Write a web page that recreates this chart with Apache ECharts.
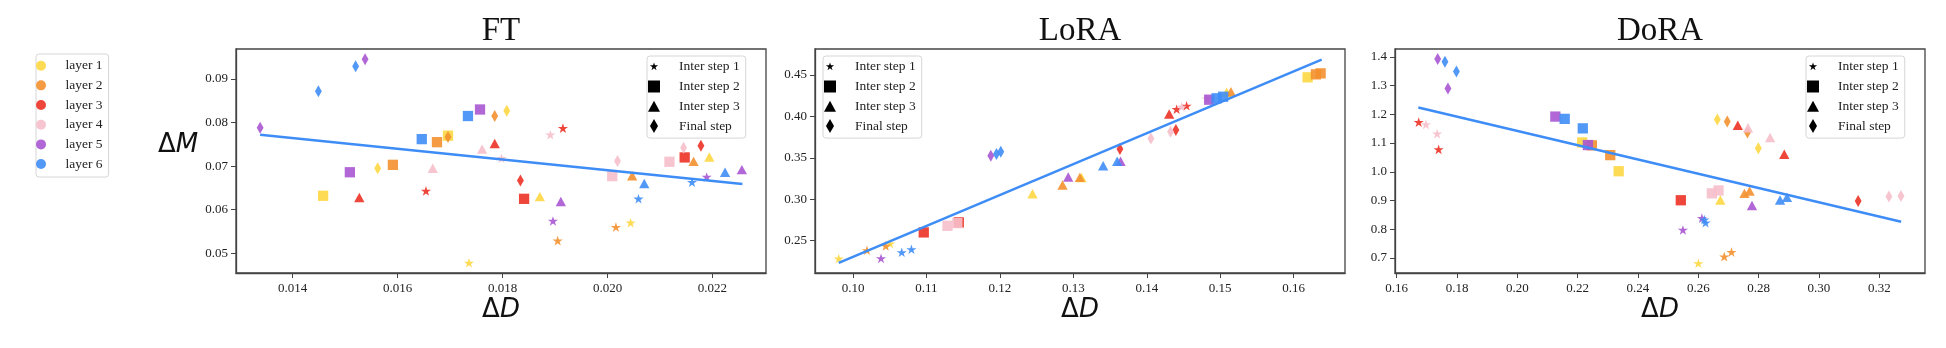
<!DOCTYPE html>
<html><head><meta charset="utf-8">
<script src="https://cdn.jsdelivr.net/npm/echarts@6/dist/echarts.min.js"></script>
<style>html,body{margin:0;padding:0;background:#fff}#c{width:1946px;height:348px}</style>
</head><body><div id="c"></div>
<script>
// ---------- data ----------
const layerNames = ['layer 1','layer 2','layer 3','layer 4','layer 5','layer 6'];
const stepNames = ['Inter step 1','Inter step 2','Inter step 3','Final step'];
const panelTitles = ['FT','LoRA','DoRA'];

// FT panel (layer 1-6, step 1-4)
const ftX = [0.01338,0.01449,0.01520,0.01538,0.01509,0.01458,0.01527,0.01562,0.01591,0.01646,0.01675,0.01696,0.01696,0.01667,0.01654,0.01734,0.01757,0.01785,0.01761,0.01785,0.01736,0.01808,0.01891,0.01915,0.01798,0.01834,0.01841,0.01871,0.01911,0.01896,0.01905,0.02019,0.02009,0.02047,0.02059,0.02016,0.02044,0.02070,0.02118,0.02147,0.02145,0.02178,0.02164,0.02194,0.02161,0.02189,0.02224,0.02256];
const ftY = [0.0788,0.0872,0.0929,0.0945,0.0686,0.0632,0.0628,0.0695,0.0703,0.0762,0.0755,0.0770,0.0767,0.0695,0.0642,0.0815,0.0830,0.0815,0.0739,0.0752,0.0477,0.0827,0.0771,0.0786,0.0717,0.0667,0.0625,0.0630,0.0619,0.0573,0.0528,0.0712,0.0677,0.0678,0.0624,0.0559,0.0569,0.0660,0.0710,0.0720,0.0742,0.0747,0.0711,0.0721,0.0662,0.0674,0.0686,0.0692];
const ftLayer = [5,6,6,5,5,1,3,1,2,6,2,1,2,4,3,6,5,2,4,3,1,1,4,3,4,3,3,1,5,5,2,4,4,2,6,2,1,6,4,3,4,3,2,1,6,5,6,5];
const ftStep  = [4,4,4,4,2,2,3,4,2,2,2,2,4,3,1,2,2,4,3,3,1,4,1,1,1,4,2,3,3,1,1,4,2,3,1,1,1,3,2,2,4,4,3,3,1,1,3,3];
const ftFitX = [0.01338, 0.02257];
const ftFitY = [0.0772, 0.06592];

// LoRA panel
const loraX = [0.09805,0.1019,0.10445,0.10504,0.10381,0.10663,0.10795,0.10963,0.11440,0.11286,0.11420,0.11876,0.11953,0.12012,0.12444,0.12853,0.12930,0.13110,0.13089,0.13406,0.13643,0.13597,0.13634,0.14056,0.14324,0.14396,0.14305,0.14406,0.14474,0.14542,0.14815,0.14850,0.14950,0.15040,0.15087,0.15146,0.16190,0.16303,0.16367];
const loraY = [0.2278,0.2378,0.2431,0.2459,0.2281,0.2354,0.2390,0.2600,0.2721,0.2680,0.2712,0.3525,0.3546,0.3574,0.3067,0.3172,0.3268,0.3262,0.3264,0.3405,0.3458,0.3458,0.3606,0.3735,0.3815,0.3836,0.4029,0.4081,0.4110,0.4122,0.4210,0.4202,0.4219,0.4238,0.4291,0.4298,0.4472,0.4508,0.4520];
const loraLayer = [1,2,2,1,5,6,6,3,3,4,4,5,6,6,1,2,5,1,2,6,5,6,3,4,4,3,3,3,4,3,4,5,6,6,1,2,1,2,2];
const loraStep  = [1,1,1,1,1,1,1,2,2,2,2,4,4,4,3,3,3,3,3,3,3,3,4,4,4,4,3,1,1,1,1,2,2,2,3,3,2,2,2];
const loraFitX = [0.09805, 0.16381];
const loraFitY = [0.2233, 0.4685];

// DoRA panel
const doraX = [0.1736,0.1760,0.1798,0.1770,0.1673,0.1697,0.1734,0.1739,0.2126,0.2157,0.2217,0.2215,0.2247,0.2234,0.2308,0.2336,0.2542,0.2645,0.2667,0.2673,0.2549,0.2612,0.2620,0.2624,0.2600,0.2686,0.2710,0.2663,0.2696,0.2731,0.2765,0.2763,0.2838,0.2799,0.2885,0.2753,0.2770,0.2778,0.2871,0.2894,0.3130,0.3232,0.3272];
const doraY = [1.392,1.383,1.349,1.290,1.171,1.163,1.131,1.076,1.192,1.184,1.151,1.102,1.092,1.093,1.058,1.002,0.901,0.925,0.935,0.902,0.796,0.837,0.832,0.821,0.680,0.703,0.719,1.182,1.175,1.162,1.153,1.137,1.119,1.082,1.061,0.925,0.933,0.883,0.902,0.911,0.898,0.914,0.916];
const doraLayer = [5,6,6,5,3,4,4,3,5,6,6,1,2,5,2,1,3,4,4,1,5,5,6,6,1,2,2,1,2,3,4,2,4,1,3,2,2,5,6,6,3,4,4];
const doraStep  = [4,4,4,4,1,1,1,1,2,2,2,2,2,2,2,2,2,2,2,3,1,1,1,1,1,1,1,4,4,3,3,4,3,4,3,3,3,3,3,3,4,4,4];
const doraFitX = [0.16717, 0.32726];
const doraFitY = [1.2237, 0.8265];

// tick labels
const ftXTicks = [0.014,0.016,0.018,0.020,0.022];
const ftYTicks = [0.05,0.06,0.07,0.08,0.09];
const loraXTicks = [0.10,0.11,0.12,0.13,0.14,0.15,0.16];
const loraYTicks = [0.25,0.30,0.35,0.40,0.45];
const doraXTicks = [0.16,0.18,0.20,0.22,0.24,0.26,0.28,0.30,0.32];
const doraYTicks = [0.7,0.8,0.9,1.0,1.1,1.2,1.3,1.4];

// ---------- styling ----------
const layerColors = ['#FDD743','#F3902F','#EC3226','#F6BFCB','#A957D1','#3E8DF6'];
const fitColor = '#3E8DF6';
const serif = 'Liberation Serif';
const panels = [
  {x:ftX,y:ftY,layer:ftLayer,step:ftStep,fx:ftFitX,fy:ftFitY,xt:ftXTicks,yt:ftYTicks,xd:3,yd:2,
   xmin:0.01292,xmax:0.02302,ymin:0.04548,ymax:0.09688,left:236,legLeft:647},
  {x:loraX,y:loraY,layer:loraLayer,step:loraStep,fx:loraFitX,fy:loraFitY,xt:loraXTicks,yt:loraYTicks,xd:2,yd:2,
   xmin:0.09482,xmax:0.16699,ymin:0.211,ymax:0.4814,left:815,legLeft:823},
  {x:doraX,y:doraY,layer:doraLayer,step:doraStep,fx:doraFitX,fy:doraFitY,xt:doraXTicks,yt:doraYTicks,xd:2,yd:1,
   xmin:0.15944,xmax:0.33516,ymin:0.648,ymax:1.427,left:1395,legLeft:1806}
];
const GT = 49, GW = 530, GH = 224;

function starPath(R) {
  const c = 7, r = R * 0.382;
  let d = 'M0 0M14 14';
  for (let k = 0; k < 10; k++) {
    const a = -Math.PI / 2 + k * Math.PI / 5;
    const rr = k % 2 === 0 ? R : r;
    const px = (c + rr * Math.cos(a)).toFixed(3), py = (c + rr * Math.sin(a)).toFixed(3);
    d += (k === 0 ? 'M' : 'L') + px + ' ' + py;
  }
  return 'path://' + d + 'Z';
}
const symData = [
  starPath(6.2),
  'path://M0 0M14 14M1 1L13 1L13 13L1 13Z',
  'path://M0 0M14 14M7 1.5L13 12.5L1 12.5Z',
  'path://M0 0M14 14M7 0L11 7L7 14L3 7Z'
];
const symLegend = [
  starPath(4.3),
  symData[1], symData[2], symData[3]
];

const grids = [], xAxes = [], yAxes = [], series = [], graphics = [];
panels.forEach((p, pi) => {
  grids.push({left:p.left, top:GT, width:GW, height:GH, containLabel:false, outerBoundsMode:'none',
    show:true, borderColor:'#444', borderWidth:1.3, backgroundColor:'transparent'});
  const axLabel = {fontFamily:serif, fontSize:13, color:'#222'};
  xAxes.push({type:'value', gridIndex:pi, min:p.xmin, max:p.xmax, scale:true,
    axisLine:{show:true, onZero:false, lineStyle:{color:'#444', width:1.3}},
    axisTick:{show:true, length:5, lineStyle:{color:'#444', width:1}, customValues:p.xt},
    axisLabel:Object.assign({margin:9, customValues:p.xt, formatter:v => v.toFixed(p.xd)}, axLabel),
    splitLine:{show:false}});
  yAxes.push({type:'value', gridIndex:pi, min:p.ymin, max:p.ymax, scale:true,
    axisLine:{show:true, onZero:false, lineStyle:{color:'#444', width:1.3}},
    axisTick:{show:true, length:5, lineStyle:{color:'#444', width:1}, customValues:p.yt},
    axisLabel:Object.assign({margin:8, customValues:p.yt, formatter:v => v.toFixed(p.yd)}, axLabel),
    splitLine:{show:false}});
  for (let l = 1; l <= 6; l++) {
    const data = [];
    for (let i = 0; i < p.x.length; i++) {
      if (p.layer[i] !== l) continue;
      data.push({value:[p.x[i], p.y[i]], symbol:symData[p.step[i]-1]});
    }
    series.push({type:'scatter', name:layerNames[l-1], xAxisIndex:pi, yAxisIndex:pi,
      symbolSize:12, symbolKeepAspect:true, data:data, z:2,
      itemStyle:{color:layerColors[l-1], opacity:0.9}, emphasis:{disabled:true}});
  }
  series.push({type:'line', name:'fit'+pi, xAxisIndex:pi, yAxisIndex:pi, showSymbol:false, symbol:'none',
    data:[[p.fx[0],p.fy[0]],[p.fx[1],p.fy[1]]], z:3, silent:true,
    lineStyle:{color:fitColor, width:2.5}, emphasis:{disabled:true}});
  const cx = p.left + GW/2;
  graphics.push({type:'text', x:cx, y:31, silent:true,
    style:{text:panelTitles[pi], font:'33px "Liberation Serif"', fill:'#111',
      align:'center', verticalAlign:'middle', textAlign:'center', textVerticalAlign:'middle'}});
  graphics.push({type:'text', x:cx, y:310, silent:true,
    style:{text:'{a|Δ}{b|D}', fill:'#111', align:'center', verticalAlign:'middle', textAlign:'center', textVerticalAlign:'middle',
      rich:{a:{fontFamily:'DejaVu Sans', fontSize:26, fill:'#111', color:'#111'},
            b:{fontFamily:'DejaVu Sans', fontStyle:'italic', fontSize:26, fill:'#111', color:'#111'}}}});
});
graphics.push({type:'text', x:178, y:145, silent:true,
  style:{text:'{a|Δ}{b|M}', fill:'#111', align:'center', verticalAlign:'middle', textAlign:'center', textVerticalAlign:'middle',
    rich:{a:{fontFamily:'DejaVu Sans', fontSize:26, fill:'#111', color:'#111'},
          b:{fontFamily:'DejaVu Sans', fontStyle:'italic', fontSize:26, fill:'#111', color:'#111'}}}});

// dummy series for step legend entries
stepNames.forEach((n) => {
  series.push({type:'scatter', name:n, xAxisIndex:0, yAxisIndex:0, data:[], itemStyle:{color:'#000', opacity:1}});
});

const legends = [{
  orient:'vertical', left:36, top:54, itemWidth:39, itemHeight:10, itemGap:5.67,
  padding:[4.7,6,6,0], icon:'circle', selectedMode:false,
  backgroundColor:'rgba(255,255,255,0.8)', borderColor:'#d6d6d6', borderWidth:1, borderRadius:3,
  textStyle:{fontFamily:serif, fontSize:13.5, color:'#222', lineHeight:14},
  data:layerNames
}];
panels.forEach((p) => {
  legends.push({
    orient:'vertical', left:p.legLeft, top:56, itemWidth:40, itemHeight:14, itemGap:5.8,
    padding:[3.7,6,5,0], selectedMode:false,
    backgroundColor:'rgba(255,255,255,0.8)', borderColor:'#d6d6d6', borderWidth:1, borderRadius:3,
    textStyle:{fontFamily:serif, fontSize:13.5, color:'#222', lineHeight:14},
    data:stepNames.map((n, i) => ({name:n, icon:symLegend[i], itemStyle:{color:'#000', opacity:1}}))
  });
});

const chart = echarts.init(document.getElementById('c'), null, {renderer:'canvas'});
chart.setOption({
  animation:false,
  backgroundColor:'#fff',
  grid:grids, xAxis:xAxes, yAxis:yAxes, series:series, legend:legends, graphic:graphics,
  tooltip:{show:false}
});
</script>
</body></html>
